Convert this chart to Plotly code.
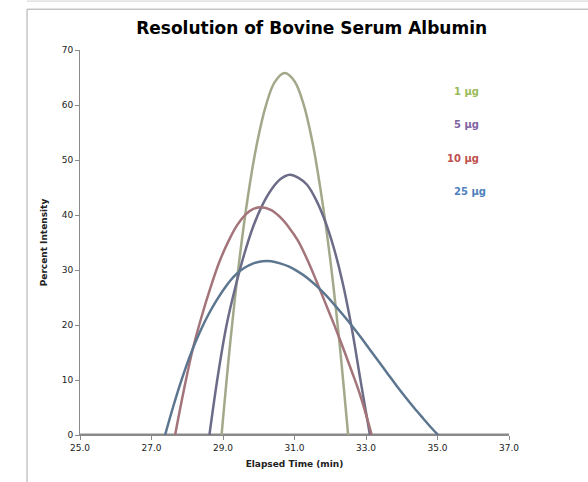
import plotly.graph_objects as go

# ---- data ----
series_names = ["1 µg", "5 µg", "10 µg", "25 µg"]

t_1ug = [28.96, 29.20, 29.45, 29.70, 29.95, 30.20, 30.45, 30.73,
         31.00, 31.25, 31.50, 31.75, 32.00, 32.25, 32.50]
v_1ug = [0.0, 16.6, 31.4, 43.5, 53.0, 59.9, 64.2, 65.8,
         64.3, 60.2, 53.3, 43.7, 31.9, 17.3, 0.0]

t_5ug = [28.62, 28.85, 29.10, 29.35, 29.60, 29.85, 30.10, 30.35, 30.60, 30.87,
         31.10, 31.35, 31.60, 31.85, 32.10, 32.35, 32.60, 32.85, 33.11]
v_5ug = [0.0, 10.5, 20.0, 27.0, 33.0, 38.0, 41.8, 44.6, 46.5, 47.3,
         46.8, 45.5, 42.8, 39.0, 34.0, 27.6, 19.5, 9.8, 0.0]

t_10ug = [27.66, 27.90, 28.15, 28.40, 28.65, 28.90, 29.15, 29.40, 29.65, 29.85,
          30.06, 30.35, 30.60, 30.85, 31.10, 31.35, 31.60, 31.85, 32.10, 32.35,
          32.60, 32.85, 33.16]
v_10ug = [0.0, 8.0, 15.5, 21.5, 26.8, 31.5, 35.2, 38.2, 40.2, 41.1,
          41.4, 40.9, 39.6, 37.7, 35.3, 32.0, 28.2, 24.2, 20.2, 16.0,
          11.6, 7.0, 0.0]

t_25ug = [27.38, 27.60, 27.85, 28.10, 28.35, 28.60, 28.85, 29.10, 29.35, 29.60,
          29.85, 30.10, 30.35, 30.60, 30.85, 31.10, 31.35, 31.60, 31.85, 32.10,
          32.35, 32.60, 32.85, 33.10, 33.35, 33.60, 33.85, 34.10, 34.35, 34.60,
          34.80, 35.02]
v_25ug = [0.0, 5.0, 10.2, 14.8, 18.7, 22.0, 24.8, 27.2, 29.1, 30.4,
          31.2, 31.6, 31.6, 31.2, 30.6, 29.7, 28.6, 27.2, 25.6, 23.8,
          21.9, 19.9, 17.8, 15.6, 13.4, 11.2, 9.0, 6.9, 4.9, 3.0,
          1.5, 0.0]

x_ticks = [25, 27, 29, 31, 33, 35, 37]
y_ticks = [0, 10, 20, 30, 40, 50, 60, 70]

label_x = [35.8, 35.8, 35.72, 35.9]
label_y = [62.5, 56.4, 50.2, 44.2]

line_colors = ["#a2a98a", "#6c6c88", "#a3747a", "#5d7690"]
label_colors = ["#9bbb59", "#8064a2", "#c0504d", "#4f81bd"]

xs = [t_1ug, t_5ug, t_10ug, t_25ug]
ys = [v_1ug, v_5ug, v_10ug, v_25ug]

fig = go.Figure()
for name, x, y, c in zip(series_names, xs, ys, line_colors):
    fig.add_trace(go.Scatter(x=x, y=y, mode="lines", name=name, hoverinfo="skip",
                             line=dict(color=c, width=2.5, shape="spline", smoothing=1.0)))

for name, lx, ly, c in zip(series_names, label_x, label_y, label_colors):
    fig.add_annotation(x=lx, y=ly, xref="x", yref="y", text="<b>%s</b>" % name,
                       showarrow=False, font=dict(family="DejaVu Sans", size=10, color=c))

# frame around chart
fig.add_shape(type="line", xref="paper", yref="paper", x0=-0.1235, x1=1.19, y0=1.127, y1=1.127,
              line=dict(color="#d0d0d0", width=1))
fig.add_shape(type="line", xref="paper", yref="paper", x0=-0.1235, x1=1.19, y0=1.106, y1=1.106,
              line=dict(color="#a8a8a8", width=1))
fig.add_shape(type="line", xref="paper", yref="paper", x0=-0.1235, x1=-0.1235, y0=1.106, y1=-0.2,
              line=dict(color="#a8a8a8", width=1))

fig.update_layout(
    width=588, height=482,
    margin=dict(l=80, r=79, t=50, b=47),
    paper_bgcolor="white", plot_bgcolor="white",
    showlegend=False,
    font=dict(family="DejaVu Sans", size=9, color="#222"),
    title=dict(text="<b>Resolution of Bovine Serum Albumin</b>", x=0.53, xanchor="center",
               y=0.942, yanchor="middle", font=dict(family="DejaVu Sans", size=17, color="black")),
    xaxis=dict(range=[25, 37], tickvals=x_ticks, ticktext=["%.1f" % v for v in x_ticks],
               showgrid=False, zeroline=False, showline=True, linecolor="#8a8a8a", linewidth=1,
               ticks="outside", ticklen=4, tickcolor="#8a8a8a",
               title=dict(text="<b>Elapsed Time (min)</b>", font=dict(size=9), standoff=8)),
    yaxis=dict(range=[0, 70], tickvals=y_ticks, showgrid=False, zeroline=False,
               showline=True, linecolor="#8a8a8a", linewidth=1,
               ticks="outside", ticklen=4, tickcolor="#8a8a8a",
               title=dict(text="<b>Percent Intensity</b>", font=dict(size=9), standoff=12)),
)
# thick gray baseline at y=0
fig.add_shape(type="line", xref="paper", yref="y", x0=0, x1=1, y0=0, y1=0,
              line=dict(color="#8a8a8a", width=3), layer="below")

fig.write_html("out.html", config={"displayModeBar": False},
               post_script="document.body.style.margin='0px';")
